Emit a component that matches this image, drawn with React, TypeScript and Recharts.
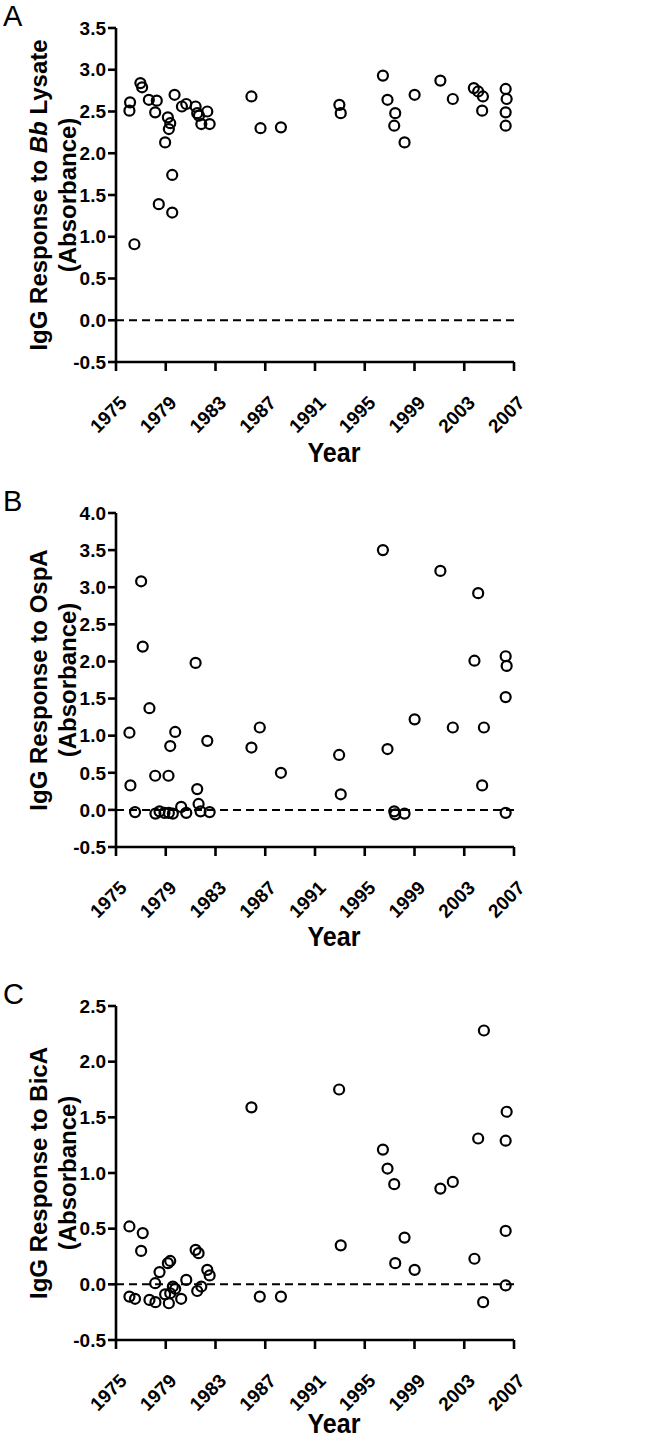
import React from 'react';
import { ScatterChart, Scatter, XAxis, YAxis, ReferenceLine } from 'recharts';

const FONT = '"Liberation Sans", Arial, sans-serif';

const YEAR_TICKS = [1975, 1979, 1983, 1987, 1991, 1995, 1999, 2003, 2007];

// Panel A: IgG response to Bb lysate
const yearsA = [1976.13, 1976.08, 1976.48, 1976.96, 1977.1, 1977.64, 1978.28, 1978.15, 1978.44, 1978.95, 1979.17, 1979.25, 1979.36, 1979.52, 1979.52, 1979.71, 1980.3, 1980.65, 1981.4, 1981.53, 1981.67, 1981.86, 1982.34, 1982.53, 1985.89, 1986.62, 1988.26, 1992.96, 1993.07, 1996.46, 1996.83, 1997.37, 1997.45, 1998.2, 1999.01, 2001.08, 2002.08, 2003.77, 2004.12, 2004.44, 2004.5, 2006.33, 2006.41, 2006.33, 2006.33];
const valuesA = [2.61, 2.51, 0.91, 2.84, 2.79, 2.64, 2.63, 2.49, 1.39, 2.13, 2.43, 2.29, 2.36, 1.74, 1.29, 2.7, 2.56, 2.59, 2.56, 2.48, 2.45, 2.35, 2.5, 2.35, 2.68, 2.3, 2.31, 2.58, 2.48, 2.93, 2.64, 2.33, 2.48, 2.13, 2.7, 2.87, 2.65, 2.78, 2.74, 2.51, 2.68, 2.77, 2.65, 2.49, 2.33];
const ticksA = [-0.5, 0, 0.5, 1, 1.5, 2, 2.5, 3, 3.5];

// Panel B: IgG response to OspA
const yearsB = [1976.08, 1976.16, 1976.53, 1977.02, 1977.15, 1977.69, 1978.15, 1978.17, 1978.5, 1978.9, 1979.22, 1979.36, 1979.25, 1979.57, 1979.76, 1980.24, 1980.65, 1981.4, 1981.53, 1981.64, 1981.8, 1982.34, 1982.53, 1985.89, 1986.56, 1988.26, 1992.94, 1993.07, 1996.46, 1996.83, 1997.37, 1997.45, 1998.2, 1999.01, 2001.08, 2002.08, 2003.82, 2004.12, 2004.44, 2004.58, 2006.33, 2006.41, 2006.33, 2006.33];
const valuesB = [1.04, 0.33, -0.03, 3.08, 2.2, 1.37, 0.46, -0.05, -0.02, -0.04, 0.46, 0.86, -0.04, -0.05, 1.05, 0.04, -0.04, 1.98, 0.28, 0.08, -0.02, 0.93, -0.03, 0.84, 1.11, 0.5, 0.74, 0.21, 3.5, 0.82, -0.02, -0.06, -0.05, 1.22, 3.22, 1.11, 2.01, 2.92, 0.33, 1.11, 2.07, 1.94, 1.52, -0.04];
const ticksB = [-0.5, 0, 0.5, 1, 1.5, 2, 2.5, 3, 3.5, 4];

// Panel C: IgG response to BicA
const yearsC = [1976.08, 1976.08, 1976.53, 1977.02, 1977.15, 1977.69, 1978.15, 1978.17, 1978.5, 1978.95, 1979.17, 1979.25, 1979.36, 1979.36, 1979.57, 1979.76, 1980.24, 1980.65, 1981.4, 1981.53, 1981.64, 1981.86, 1982.34, 1982.53, 1985.89, 1986.56, 1988.26, 1992.94, 1993.07, 1996.46, 1996.83, 1997.37, 1997.45, 1998.2, 1999.01, 2001.08, 2002.08, 2003.82, 2004.12, 2004.52, 2004.58, 2006.33, 2006.41, 2006.33, 2006.33];
const valuesC = [0.52, -0.11, -0.13, 0.3, 0.46, -0.14, 0.01, -0.16, 0.11, -0.09, 0.19, -0.17, 0.21, -0.08, -0.02, -0.04, -0.13, 0.04, 0.31, -0.06, 0.28, -0.02, 0.13, 0.08, 1.59, -0.11, -0.11, 1.75, 0.35, 1.21, 1.04, 0.9, 0.19, 0.42, 0.13, 0.86, 0.92, 0.23, 1.31, -0.16, 2.28, 1.29, 1.55, 0.48, -0.01];
const ticksC = [-0.5, 0, 0.5, 1, 1.5, 2, 2.5];

const zip = (xs: number[], ys: number[]) => xs.map((x, i) => ({ x, y: ys[i] }));

const Circle = (props: any) => (
  <circle cx={props.cx} cy={props.cy} r={5} fill="none" stroke="#000" strokeWidth={2.2} />
);

const XTick = (props: any) => {
  const { x, y, payload } = props;
  const ax = x + 12;
  const ay = y + 31;
  return (
    <text
      x={ax}
      y={ay}
      transform={`rotate(-45, ${ax}, ${ay})`}
      textAnchor="end"
      fontFamily={FONT}
      fontWeight="bold"
      fontSize={19}
      fill="#000"
    >
      {payload.value}
    </text>
  );
};

interface PanelProps {
  letter: string;
  target: React.ReactNode;
  data: { x: number; y: number }[];
  ticks: number[];
  top: number;
  height: number;
  yearDy: number;
}

const Panel = ({ letter, target, data, ticks, top, height, yearDy }: PanelProps) => {
  const yLabel = (p: any) => {
    const vb = p.viewBox;
    const cy = vb.y + vb.height / 2;
    return (
      <g fontFamily={FONT} fill="#000">
        <text x={3} y={vb.y - 2} fontSize={29}>{letter}</text>
        <text x={47} y={cy} transform={`rotate(-90, 47, ${cy})`} textAnchor="middle" fontSize={24} fontWeight="bold">
          {target}
        </text>
        <text x={76} y={cy} transform={`rotate(-90, 76, ${cy})`} textAnchor="middle" fontSize={24} fontWeight="bold">
          (Absorbance)
        </text>
      </g>
    );
  };
  const xLabel = (p: any) => {
    const vb = p.viewBox;
    return (
      <text
        x={vb.x + vb.width / 2 + 19}
        y={vb.y + yearDy}
        textAnchor="middle"
        fontFamily={FONT}
        fontWeight="bold"
        fontSize={28}
        textLength={53}
        lengthAdjust="spacingAndGlyphs"
        fill="#000"
      >
        Year
      </text>
    );
  };
  return (
    <div style={{ position: 'absolute', left: 0, top }}>
      <ScatterChart width={656} height={height} margin={{ top: 28, right: 142, bottom: 0, left: 16 }}>
        <XAxis
          type="number"
          dataKey="x"
          domain={[1975, 2007]}
          ticks={YEAR_TICKS}
          allowDataOverflow
          height={height - 28 - 334}
          tick={<XTick />}
          tickSize={9}
          tickMargin={2}
          stroke="#000"
          strokeWidth={2.6}
          label={{ content: xLabel }}
        />
        <YAxis
          type="number"
          dataKey="y"
          domain={[ticks[0], ticks[ticks.length - 1]]}
          ticks={ticks}
          allowDataOverflow
          width={100}
          tickSize={8}
          tickMargin={2}
          tickFormatter={(v: number) => v.toFixed(1)}
          tick={{ fill: '#000', fontFamily: FONT, fontWeight: 'bold', fontSize: 19 }}
          stroke="#000"
          strokeWidth={2.6}
          label={{ content: yLabel }}
        />
        <ReferenceLine y={0} stroke="#000" strokeWidth={2} strokeDasharray="8 5" />
        <Scatter data={data} shape={Circle} isAnimationActive={false} />
      </ScatterChart>
    </div>
  );
};

export default function App() {
  return (
    <div style={{ position: 'absolute', left: 0, top: 0, width: 656, height: 1441, background: '#fff' }}>
      <Panel
        letter="A"
        top={0}
        height={474}
        yearDy={100}
        data={zip(yearsA, valuesA)}
        ticks={ticksA}
        target={<>IgG Response to <tspan fontStyle="italic">Bb</tspan> Lysate</>}
      />
      <Panel letter="B" top={485} height={474} yearDy={99} data={zip(yearsB, valuesB)} ticks={ticksB} target="IgG Response to OspA" />
      <Panel letter="C" top={978} height={462} yearDy={93} data={zip(yearsC, valuesC)} ticks={ticksC} target="IgG Response to BicA" />
    </div>
  );
}
